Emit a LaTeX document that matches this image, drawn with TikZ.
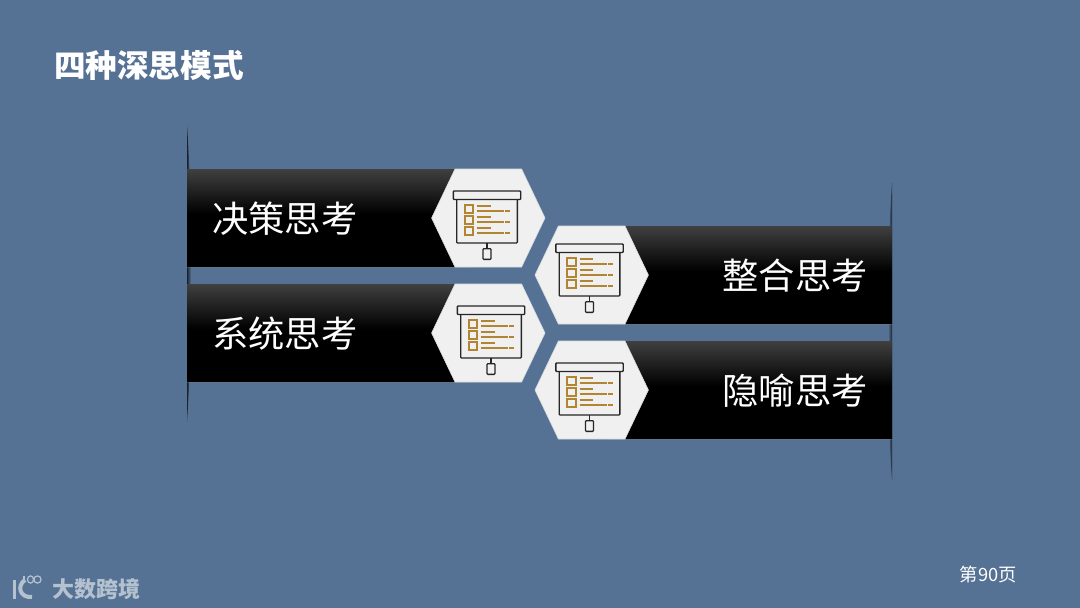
\documentclass[tikz,border=0pt]{standalone}
\usepackage{fontspec}
\setmainfont{Noto Sans CJK SC}
\usetikzlibrary{shadows}
\definecolor{slidebg}{RGB}{85,114,148}
\definecolor{hexfill}{RGB}{240,240,240}
\definecolor{hexedge}{RGB}{215,219,223}
\definecolor{gold}{RGB}{178,133,50}
\definecolor{edgedark}{RGB}{25,35,48}
\definecolor{logogray}{RGB}{180,194,208}
\pgfdeclareverticalshading{bandfade}{100bp}{color(0bp)=(black); color(52bp)=(black); color(75bp)=(black!75!white); color(100bp)=(black!75!white)}
\tikzset{
    band/.style={shading=bandfade, minimum width=283pt, minimum height=97.5pt, inner sep=0pt, outer sep=0pt, drop shadow={opacity=0.3, shadow xshift=0pt, shadow yshift=-1.5pt}},
    bandtext/.style={text=white, font=\fontsize{36.3}{36.3}\selectfont, inner sep=0pt},
    rowline/.style={draw=gold, line width=1.7pt},
    iconline/.style={draw=black!85, line width=1.4pt, rounded corners=0.8pt},
    hexplate/.pic={
        \draw[fill=hexfill, draw=hexedge, line width=0.6pt] (-56.7,0) -- (-33.3,-49) -- (33.3,-49) -- (56.7,0) -- (33.3,49) -- (-33.3,49) -- cycle;
    },
    screenicon/.pic={
        \draw[iconline, fill=hexfill] (-30.3,8) rectangle (30.3,52);
        \draw[iconline, fill=hexfill] (-33.7,0) rectangle (33.7,8.5);
        \draw[iconline] (0,52) -- (0,57.7);
        \draw[iconline] (-4,57.7) rectangle (4,68.3);
        \foreach \rowy in {14,25.3,36.3} {
            \draw[rowline] (-22.3,\rowy) rectangle (-13.7,\rowy+7.7);
            \draw[rowline] (-9.7,\rowy+0.7) -- (3.7,\rowy+0.7);
            \draw[rowline] (-9.7,\rowy+6) -- (17,\rowy+6);
            \draw[rowline] (18.3,\rowy+6) -- (23,\rowy+6);
        }
    }
}

\begin{document}
\begin{tikzpicture}[x=1pt, y=-1pt]
    \useasboundingbox[fill=slidebg] (0,0) rectangle (1080,608);
    \node[text=white, font=\fontsize{31.6}{31.6}\selectfont\bfseries, inner sep=0pt, anchor=west] (title) at (54,65.5) {四种深思模式};

    \shade[left color=edgedark, right color=slidebg] (187,125) .. controls (190.5,175) and (191,230) .. (191,272) .. controls (191,320) and (190.5,370) .. (187,422) -- cycle;
    \shade[left color=slidebg, right color=edgedark] (892,183) .. controls (888.5,233) and (888,290) .. (888,332) .. controls (888,380) and (888.5,430) .. (892,480) -- cycle;

    \node[band, shade] (band1) at (328.5,218) {};
    \node[band, shade] (band3) at (328.5,333) {};
    \node[band, shade] (band2) at (750.5,275) {};
    \node[band, shade] (band4) at (750.5,390) {};

    \pic (hex1) at (488.3,218) {hexplate};
    \pic (hex3) at (488.3,333) {hexplate};
    \pic (hex2) at (591.7,275) {hexplate};
    \pic (hex4) at (591.7,390) {hexplate};

    \pic at (487,191) {screenicon};
    \pic at (491,306) {screenicon};
    \pic at (589.5,244) {screenicon};
    \pic at (589.5,363) {screenicon};

    \node[bandtext, anchor=west] (label1) at (212,218.5) {决策思考};
    \node[bandtext, anchor=west] (label3) at (212,333.5) {系统思考};
    \node[bandtext, anchor=east] (label2) at (868,275.5) {整合思考};
    \node[bandtext, anchor=east] (label4) at (868,390.5) {隐喻思考};

    \node[text=white, font=\fontsize{18.3}{18.3}\selectfont, inner sep=0pt, anchor=east] (page) at (1017,575) {第90页};

    \draw[logogray, line width=3pt] (14,580) -- (14,599);
    \draw[logogray, line width=4pt] (25,580) .. controls (17,585) and (19,598) .. (32,597);
    \draw[logogray, line width=1.3pt] (24,576) -- (24,583);
    \draw[logogray, line width=1.2pt] (30.5,579.5) ellipse (3pt and 3.6pt) (37.5,579.5) ellipse (3.6pt and 3.6pt);
    \node[text=logogray, font=\fontsize{22}{22}\selectfont\bfseries, inner sep=0pt, anchor=west] (logotext) at (52,589) {大数跨境};
\end{tikzpicture}
\end{document}
